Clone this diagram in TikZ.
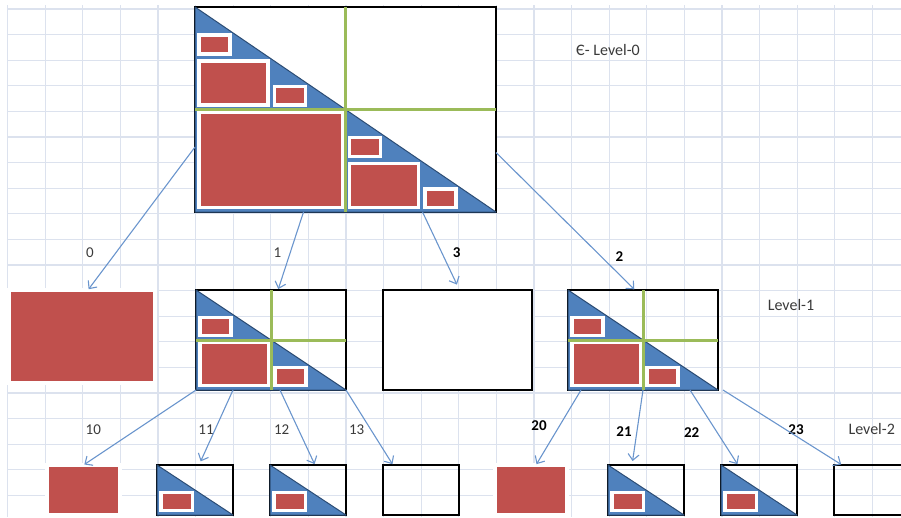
\documentclass[tikz,border=0pt]{standalone}
\usepackage{fontspec}
\setmainfont{Carlito}
\usetikzlibrary{arrows.meta, positioning}
\definecolor{cellred}{HTML}{C0504D}
\definecolor{triblue}{HTML}{4F81BD}
\definecolor{triedge}{HTML}{2C4D75}
\definecolor{splitgreen}{HTML}{9BBB59}
\definecolor{gridline}{HTML}{DCE2EE}
\definecolor{linkblue}{HTML}{6A95CD}
\definecolor{labelgray}{HTML}{3A3A3A}
\tikzset{frame/.style={rectangle,draw=black,line width=2pt,inner sep=0pt,outer sep=0pt},whitebox/.style={frame,fill=white},cell/.style={fill=cellred,draw=white,line width=3.5pt},block/.style={cell,rectangle,inner sep=0pt,outer sep=0pt},tri/.style={fill=triblue,draw=triedge,line width=1pt,line join=round},split/.style={draw=splitgreen,line width=3pt},link/.style={draw=linkblue,line width=1.1pt,shorten >=1pt,-{Straight Barb[length=6pt,width=11pt]}},code/.style={font=\fontsize{15}{18}\selectfont,text=labelgray},bcode/.style={font=\fontsize{15}{18}\selectfont\bfseries,text=black},level/.style={font=\fontsize{16}{19}\selectfont,text=labelgray}}
% one red quad cell, inset from its corners
\newcommand{\qcell}[4]{\draw[cell] ({#1+4},{#2+2.5}) rectangle ({#3-2.5},{#4-4.5});}

\begin{document}
\begin{tikzpicture}[x=1pt,y=-1pt]
\useasboundingbox (0,0) rectangle (901,517);
\clip (0,0) rectangle (901,517);
% sheet grid
\foreach \gx in {0,...,23} \draw[gridline,line width=1.2pt] ({7.5+37.6*\gx},5) -- ({7.5+37.6*\gx},517);
\foreach \gy in {0,...,19} \draw[gridline,line width=1.2pt] (7,{9+25.6*\gy}) -- (901,{9+25.6*\gy});

% level 0
\node[whitebox,line width=2.5pt,minimum width=301pt,minimum height=205pt] (root) at (345.5,109.5) {};
\begin{scope}[shift={(root.north west)}]
\path[tri] (0,0) -- (301,205) -- (0,205) -- cycle;
\qcell{0}{102.5}{150.5}{205}
\qcell{0}{51.25}{75.25}{102.5}
\qcell{75.25}{76.9}{112.9}{102.5}
\qcell{0}{25.6}{37.6}{51.25}
\qcell{150.5}{153.75}{225.75}{205}
\qcell{150.5}{128.1}{188.1}{153.75}
\qcell{225.75}{179.4}{263.4}{205}
\draw[split] (150.5,0) -- (150.5,205);
\draw[split] (0,102.5) -- (301,102.5);
\end{scope}
\node[level] (lev0) at (608,50) {Є- Level-0};

% level 1
\node[block,minimum width=146pt,minimum height=93pt] (r0) at (82,336.5) {};
\node[frame,minimum width=150pt,minimum height=100pt] (b1) at (271,340) {};
\node[whitebox,minimum width=149pt,minimum height=100pt] (b3) at (457.5,340) {};
\node[frame,minimum width=150pt,minimum height=100pt] (b2) at (643,340) {};
\foreach \b in {b1,b2} {
  \begin{scope}[shift={(\b.north west)}]
  \path[tri] (0,0) -- (150,100) -- (0,100) -- cycle;
  \qcell{0}{50}{75}{100}
  \qcell{0}{25}{37.5}{50}
  \qcell{75}{75}{112.5}{100}
  \draw[split] (75,0) -- (75,100);
  \draw[split] (0,50) -- (150,50);
  \end{scope}
}
\node[level] (lev1) at (791,305) {Level-1};

% level 2
\node[block,minimum width=73pt,minimum height=50pt] (r10) at (83.5,490) {};
\node[frame,minimum width=76pt,minimum height=50pt] (b11) at (195,490) {};
\node[frame,minimum width=76pt,minimum height=50pt] (b12) at (308,490) {};
\node[frame,minimum width=76pt,minimum height=50pt] (b13) at (421,490) {};
\node[block,minimum width=72pt,minimum height=50pt] (r20) at (531,490) {};
\node[frame,minimum width=76pt,minimum height=50pt] (b21) at (646,490) {};
\node[frame,minimum width=76pt,minimum height=50pt] (b22) at (759,490) {};
\node[frame,minimum width=76pt,minimum height=50pt] (b23) at (872,490) {};
\foreach \b in {b11,b12,b21,b22} {
  \begin{scope}[shift={(\b.north west)}]
  \path[tri] (0,0) -- (76,50) -- (0,50) -- cycle;
  \qcell{0}{25}{38}{50}
  \end{scope}
}
\node[level] (lev2) at (871.7,429.3) {Level-2};

% quad codes
\node[code] (c0) at (90,253) {0};
\node[code] (c1) at (277.3,253) {1};
\node[bcode] (c3) at (456.7,252.3) {3};
\node[bcode] (c2) at (619.3,256.7) {2};
\node[code] (c10) at (93.3,429.3) {10};
\node[code] (c11) at (206,429.3) {11};
\node[code] (c12) at (281.7,429.3) {12};
\node[code] (c13) at (356.7,429.3) {13};
\node[bcode] (c20) at (539,426) {20};
\node[bcode] (c21) at (624,431.7) {21};
\node[bcode] (c22) at (691.7,432.7) {22};
\node[bcode] (c23) at (796,429.3) {23};

% links
\draw[link] ([yshift=-37.5pt]root.west) -- ([xshift=6pt]r0.north);
\draw[link] ([xshift=-42pt]root.south) -- ([xshift=7pt]b1.north);
\draw[link,shorten >=6pt] ([xshift=77pt]root.south) -- ([xshift=2pt]b3.north);
\draw[link] ([yshift=-43pt]root.east) -- ([xshift=-8pt]b2.north);
\draw[link] (b1.south west) -- (r10.north);
\draw[link,shorten >=4pt] ([xshift=-38pt]b1.south) -- ([xshift=4pt]b11.north);
\draw[link] ([xshift=9pt]b1.south) -- ([xshift=7pt]b12.north);
\draw[link] (b1.south east) -- ([xshift=10pt]b13.north west);
\draw[link] ([xshift=13pt]b2.south west) -- ([xshift=5pt]r20.north);
\draw[link,shorten >=4pt] (b2.south) -- ([xshift=-14pt]b21.north);
\draw[link] ([xshift=47pt]b2.south) -- ([xshift=17pt]b22.north west);
\draw[link] ([xshift=5pt]b2.south east) -- ([xshift=8pt]b23.north west);
\end{tikzpicture}
\end{document}
